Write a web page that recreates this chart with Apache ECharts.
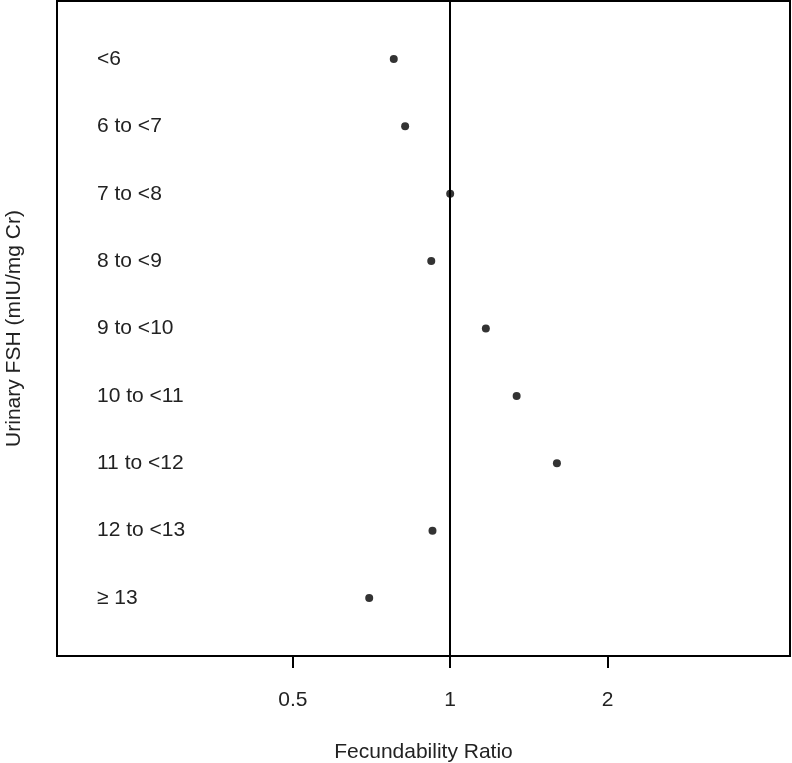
<!DOCTYPE html>
<html>
<head>
<meta charset="utf-8">
<script src="https://cdn.jsdelivr.net/npm/echarts@6/dist/echarts.min.js"></script>
<style>
  html, body { margin: 0; padding: 0; background: #fff; }
  #chart { width: 792px; height: 763px; }
</style>
</head>
<body>
<div id="chart"></div>
<script>
// FSH groups, top to bottom
var categories = ['<6', '6 to <7', '7 to <8', '8 to <9', '9 to <10', '10 to <11', '11 to <12', '12 to <13', '\u2265 13'];
// fecundability ratio
var ratios = [0.78, 0.82, 1.0, 0.92, 1.17, 1.34, 1.60, 0.925, 0.70];
var xTicks = [0.5, 1, 2];

var FONT = "'Liberation Sans', Arial, sans-serif";

var points = ratios.map(function (r, i) { return [r, i + 1]; });
var rows = categories.map(function (c, i) { return i + 1; });

var chart = echarts.init(document.getElementById('chart'));
chart.setOption({
  animation: false,
  backgroundColor: '#fff',
  grid: {
    left: 57, right: 2, top: 1, bottom: 107,
    outerBoundsMode: 'none',
    containLabel: false,
    show: true,
    borderColor: '#000',
    borderWidth: 2,
    backgroundColor: 'transparent'
  },
  xAxis: {
    type: 'log',
    logBase: 2,
    min: 0.177,
    max: 4.466,
    name: 'Fecundability Ratio',
    nameLocation: 'middle',
    nameGap: 86,
    nameTextStyle: { fontFamily: FONT, fontSize: 21, color: '#222' },
    axisLine: { show: true, lineStyle: { color: '#000', width: 2 } },
    axisTick: { show: true, length: 12, customValues: xTicks, lineStyle: { color: '#000', width: 2 } },
    axisLabel: {
      customValues: xTicks,
      margin: 34,
      fontFamily: FONT, fontSize: 21, color: '#222',
      formatter: function (v) { return String(v); }
    },
    splitLine: { show: false }
  },
  yAxis: {
    type: 'value',
    inverse: true,
    min: 0.14,
    max: 9.86,
    name: 'Urinary FSH (mIU/mg Cr)',
    nameLocation: 'middle',
    nameGap: 32,
    nameTextStyle: { fontFamily: FONT, fontSize: 21, color: '#222' },
    axisLine: { show: false },
    axisTick: { show: false },
    axisLabel: {
      inside: true,
      margin: 40,
      customValues: rows,
      fontFamily: FONT, fontSize: 21, color: '#222',
      formatter: function (v) { return categories[Math.round(v) - 1] || ''; }
    },
    splitLine: { show: false }
  },
  series: [{
    type: 'scatter',
    data: points,
    symbol: 'circle',
    symbolSize: 8,
    itemStyle: { color: '#000' },
    markLine: {
      silent: true,
      symbol: 'none',
      label: { show: false },
      lineStyle: { color: '#000', width: 2, type: 'solid' },
      data: [{ xAxis: 1 }]
    }
  }]
});
</script>
</body>
</html>
